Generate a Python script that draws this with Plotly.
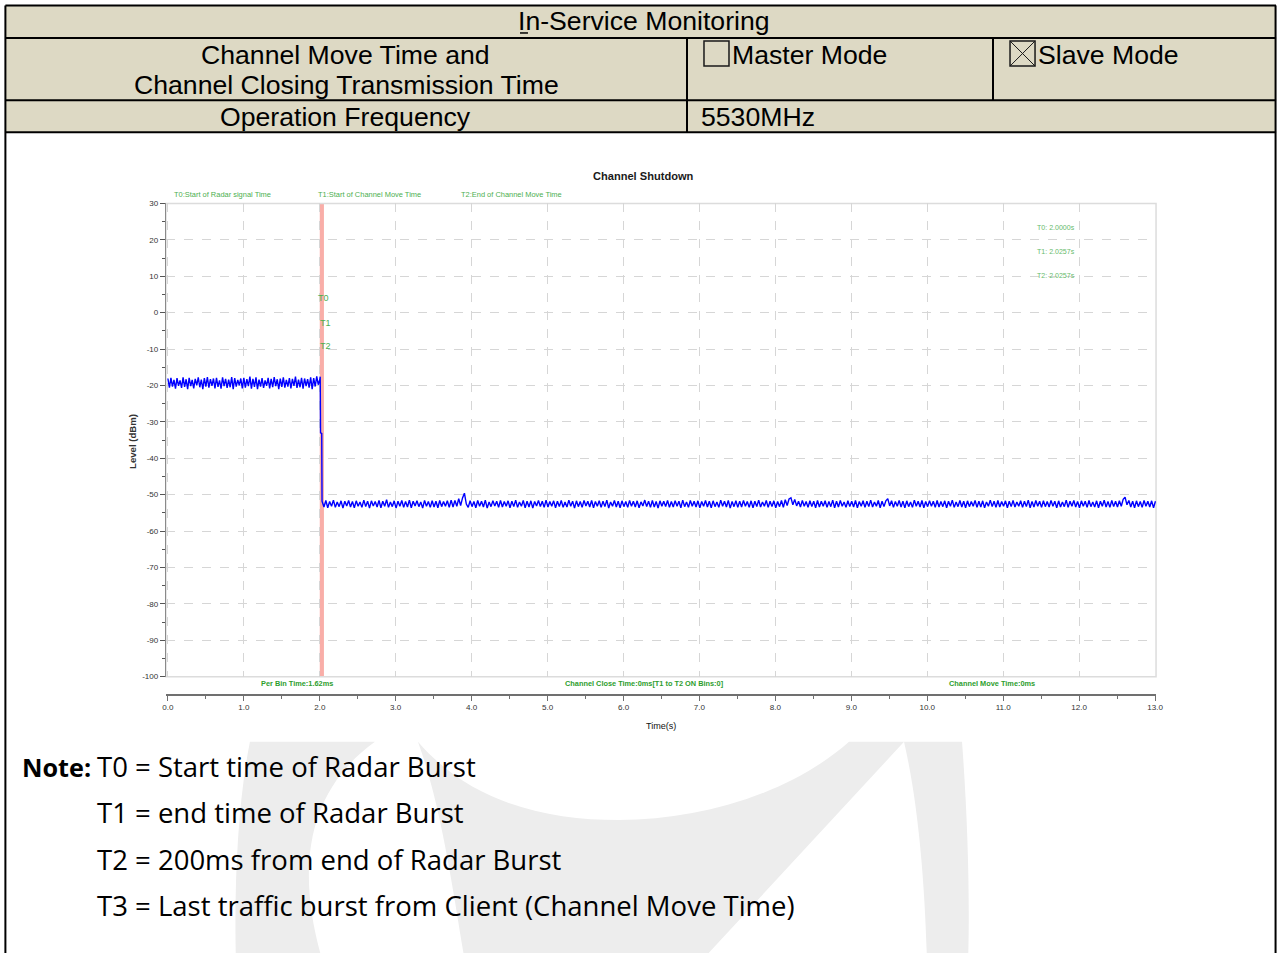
import plotly.graph_objects as go

# Page is 1283x953 with no body margin (set in post_script).  The photographed
# picture is slightly shrunk/offset relative to the page, so positions are given
# in picture pixels and mapped back to page pixels here.
W, H = 1283, 953
AX, BX = 4.1, 0.9913
AY, BY = 4.1, 0.988
FS = 1 / BX  # font-size compensation

# ---------------- data ----------------
chart_title = "Channel Shutdown"
x_title = "Time(s)"
y_title = "Level (dBm)"
x_tick_values = [0, 1, 2, 3, 4, 5, 6, 7, 8, 9, 10, 11, 12, 13]
y_tick_values = [30, 20, 10, 0, -10, -20, -30, -40, -50, -60, -70, -80, -90, -100]

# level before the radar burst (sampled every 0.02 s from 0.00 s)
seg1_step = 0.02
seg1_level = [
    -18.1, -20.6, -17.9, -20.3, -18.5, -20.9, -18.0, -20.1, -18.6, -20.7,
    -17.8, -20.4, -18.3, -21.0, -17.9, -20.2, -18.5, -20.8, -18.2, -20.0,
    -17.8, -20.5, -18.4, -21.0, -18.0, -20.3, -17.7, -20.6, -18.3, -20.1,
    -18.1, -20.8, -17.9, -20.4, -18.6, -20.9, -17.8, -20.2, -18.2, -20.7,
    -18.4, -20.5, -17.7, -21.0, -18.0, -20.3, -18.5, -20.0, -18.1, -20.8,
    -17.9, -20.6, -18.3, -20.2, -17.6, -20.9, -18.2, -20.4, -17.8, -21.0,
    -18.4, -20.3, -18.0, -20.7, -18.6, -20.1, -17.9, -20.8, -18.2, -20.5,
    -17.7, -20.2, -18.3, -21.0, -18.1, -20.4, -17.8, -20.6, -18.5, -20.3,
    -18.0, -20.8, -18.2, -20.1, -17.6, -20.7, -18.4, -20.5, -17.9, -20.9,
    -18.1, -20.2, -18.3, -20.6, -17.8, -21.0, -18.0, -20.3, -17.5, -19.8,
]

# drop at the radar burst
transition_time = [2.000, 2.006, 2.010, 2.026]
transition_level = [-18.4, -17.6, -33.0, -33.2]

# level after channel shutdown (sampled every 0.025 s from 2.03 s)
seg2_start = 2.03
seg2_step = 0.025
seg2_level = [
    -51.8, -53.4, -51.6, -53.6, -51.9, -53.2, -51.5, -53.5, -52.0, -53.3, -51.7, -53.7, -51.8, -53.1, -51.6, -53.4, -51.9, -53.6, -51.7, -53.2,
    -52.0, -53.5, -51.5, -53.3, -51.8, -53.7, -51.7, -53.1, -51.9, -53.4, -51.6, -53.6, -51.8, -53.2, -51.4, -53.5, -52.0, -53.3, -51.7, -53.7,
    -51.8, -53.2, -51.6, -53.5, -51.9, -53.4, -51.5, -53.6, -51.8, -53.1, -51.7, -53.3, -52.0, -53.7, -51.6, -53.2, -51.9, -53.5, -51.7, -53.4,
    -51.8, -53.6, -51.6, -53.3, -51.9, -53.2, -51.7, -53.5, -51.5, -53.4, -51.6, -53.2, -51.1, -53.0, -50.9, -49.6, -52.6, -53.5, -51.7, -53.3,
    -51.9, -53.6, -51.6, -53.2, -51.8, -53.4, -51.5, -53.7, -52.0, -53.3, -51.7, -53.1, -51.8, -53.5, -51.6, -53.4, -51.9, -53.2, -51.7, -53.6,
    -51.8, -53.3, -51.5, -53.5, -52.0, -53.2, -51.6, -53.6, -51.8, -53.4, -51.7, -53.7, -51.9, -53.1, -51.6, -53.3, -51.8, -53.5, -51.5, -53.4,
    -51.9, -53.2, -51.7, -53.6, -51.8, -53.3, -51.6, -53.5, -52.0, -53.4, -51.5, -53.2, -51.8, -53.7, -51.7, -53.3, -51.9, -53.5, -51.6, -53.1,
    -51.8, -53.4, -51.6, -53.6, -51.9, -53.2, -51.7, -53.5, -51.8, -53.3, -51.5, -53.7, -52.0, -53.2, -51.6, -53.4, -51.8, -53.6, -51.7, -53.3,
    -51.9, -53.5, -51.6, -53.2, -51.8, -53.4, -51.7, -53.6, -52.0, -53.1, -51.5, -53.3, -51.8, -53.5, -51.6, -53.4, -51.9, -53.7, -51.7, -53.2,
    -51.8, -53.3, -51.6, -53.5, -51.9, -53.4, -51.7, -53.2, -51.8, -53.6, -51.5, -53.3, -52.0, -53.5, -51.6, -53.2, -51.8, -53.4, -51.7, -53.6,
    -51.9, -53.2, -51.6, -53.4, -51.8, -53.6, -51.7, -53.3, -52.0, -53.5, -51.5, -53.2, -51.8, -53.4, -51.6, -53.7, -51.9, -53.3, -51.7, -53.5,
    -51.8, -53.4, -51.6, -53.2, -51.9, -53.5, -51.7, -53.6, -51.8, -53.3, -51.5, -53.4, -52.0, -53.2, -51.6, -53.5, -51.8, -53.3, -51.7, -53.6,
    -51.9, -53.3, -51.6, -53.5, -51.4, -53.0, -51.2, -50.9, -52.8, -51.3, -53.1, -51.8, -53.4, -51.6, -53.2, -51.9, -53.5, -51.7, -53.3, -51.8,
    -53.6, -51.6, -53.4, -51.8, -53.2, -51.7, -53.5, -51.9, -53.3, -51.5, -53.6, -51.8, -53.4, -51.6, -53.2, -52.0, -53.5, -51.7, -53.3, -51.8,
    -53.4, -51.6, -53.6, -51.9, -53.2, -51.7, -53.5, -51.8, -53.3, -51.5, -53.4, -52.0, -53.2, -51.6, -53.6, -51.8, -53.3, -51.7, -51.1, -53.1,
    -51.7, -53.5, -51.9, -53.2, -51.6, -53.4, -51.8, -53.6, -51.7, -53.3, -52.0, -53.5, -51.5, -53.2, -51.8, -53.4, -51.6, -53.6, -51.9, -53.3,
    -51.7, -53.2, -51.8, -53.5, -51.6, -53.4, -51.9, -53.3, -51.7, -53.6, -51.8, -53.2, -51.5, -53.5, -52.0, -53.3, -51.6, -53.4, -51.8, -53.6,
    -51.7, -53.3, -51.9, -53.2, -51.6, -53.5, -51.8, -53.4, -51.7, -53.6, -52.0, -53.2, -51.5, -53.3, -51.8, -53.5, -51.6, -53.4, -51.9, -53.2,
    -51.7, -53.6, -51.8, -53.3, -51.6, -53.4, -52.0, -53.2, -51.7, -53.5, -51.8, -53.3, -51.5, -53.6, -51.9, -53.4, -51.6, -53.2, -51.8, -53.5,
    -51.7, -53.3, -51.9, -53.4, -51.6, -53.2, -51.8, -53.6, -51.7, -53.4, -52.0, -53.3, -51.5, -53.5, -51.8, -53.2, -51.6, -53.4, -51.9, -53.6,
    -51.7, -53.2, -51.8, -53.5, -51.6, -53.3, -52.0, -53.4, -51.7, -53.6, -51.8, -53.2, -51.5, -53.4, -51.9, -53.5, -51.6, -53.3, -51.8, -53.4,
    -51.7, -53.2, -51.3, -50.7, -52.8, -51.6, -53.4, -51.8, -53.6, -51.7, -53.3, -51.9, -53.5, -51.6, -53.2, -51.8, -53.4, -51.7, -53.6, -51.8,
]

# marker times
marker_names = ["T0", "T1", "T2"]
marker_times = [2.0000, 2.0257, 2.0257]
marker_label_levels = [4.0, -2.8, -9.1]
shutdown_band = [2.000, 2.055]

top_legend = ["T0:Start of Radar signal Time", "T1:Start of Channel Move Time", "T2:End of Channel Move Time"]
bottom_info = ["Per Bin Time:1.62ms", "Channel Close Time:0ms[T1 to T2 ON Bins:0]", "Channel Move Time:0ms"]

header_title = "In-Service Monitoring"
row2_left = ["Channel Move Time and", "Channel Closing Transmission Time"]
mode_labels = ["Master Mode", "Slave Mode"]
mode_checked = [False, True]
row3_left = "Operation Frequency"
row3_right = "5530MHz"

note_head = "Note:"
note_lines = [
    "T0 = Start time of Radar Burst",
    "T1 = end time of Radar Burst",
    "T2 = 200ms from end of Radar Burst",
    "T3 = Last traffic burst from Client (Channel Move Time)",
]

# ---------------- helpers ----------------
def PX(x):
    return ((x - AX) / BX) / W


def PY(y):
    return 1 - ((y - AY) / BY) / H


CHART_FONT = "Liberation Sans, Arial, sans-serif"
ARIAL = "Liberation Sans, Arial, sans-serif"
NOTE_FONT = "Open Sans, Noto Sans, sans-serif"
TAN = "#DDD9C4"

time = [i * seg1_step for i in range(len(seg1_level))] + transition_time + \
       [seg2_start + i * seg2_step for i in range(len(seg2_level))]
level = seg1_level + transition_level + seg2_level

fig = go.Figure()
fig.add_trace(go.Scatter(x=time, y=level, mode="lines",
                         line=dict(color="#0000FF", width=1.4), hoverinfo="skip",
                         showlegend=False))

shapes = []
annotations = []

# ---- table ----
L, R, T = 5.5, 1276, 5.5
shapes.append(dict(type="rect", xref="paper", yref="paper", x0=PX(L), x1=PX(R), y0=PY(132), y1=PY(T),
                   fillcolor=TAN, line=dict(width=0), layer="below"))


def hline(y, x0, x1, w=2, color="black"):
    shapes.append(dict(type="line", xref="paper", yref="paper", x0=PX(x0), x1=PX(x1), y0=PY(y), y1=PY(y),
                       line=dict(color=color, width=w)))


def vline(x, y0, y1, w=2, color="black"):
    shapes.append(dict(type="line", xref="paper", yref="paper", x0=PX(x), x1=PX(x), y0=PY(y0), y1=PY(y1),
                       line=dict(color=color, width=w)))


for yy in (T, 38, 100, 132):
    hline(yy, L, R)
vline(L, T, 960)
vline(R - 0.5, T, 960)
vline(687, 38, 132)
vline(993, 38, 100)
# accelerator underline under the "I"
hline(33, 520, 528, w=1.5)

# checkboxes
for bx, checked in zip((704, 1010), mode_checked):
    shapes.append(dict(type="rect", xref="paper", yref="paper", x0=PX(bx), x1=PX(bx + 25), y0=PY(66), y1=PY(41),
                       line=dict(color="#1a1a1a", width=1.5)))
    if checked:
        shapes.append(dict(type="line", xref="paper", yref="paper", x0=PX(bx), x1=PX(bx + 25), y0=PY(41), y1=PY(66),
                           line=dict(color="#1a1a1a", width=1)))
        shapes.append(dict(type="line", xref="paper", yref="paper", x0=PX(bx), x1=PX(bx + 25), y0=PY(66), y1=PY(41),
                           line=dict(color="#1a1a1a", width=1)))


def text(t, x, y, size, font=ARIAL, color="#000", xanchor="center", yanchor="middle", **kw):
    annotations.append(dict(text=t, x=PX(x), y=PY(y), xref="paper", yref="paper", showarrow=False,
                            xanchor=xanchor, yanchor=yanchor,
                            font=dict(family=font, size=size * FS, color=color), **kw))


TS = 26.4
text(header_title, 644.5, 21.5, TS)
text(row2_left[0], 346, 54.5, TS)
text(row2_left[1], 346.5, 84.5, TS)
text(mode_labels[0], 730, 54.5, TS, xanchor="left")
text(mode_labels[1], 1036, 54.5, TS, xanchor="left")
text(row3_left, 346, 116.5, TS)
text(row3_right, 699, 116.5, TS, xanchor="left")

# ---- watermark (light grey logo fragments) ----
def path(pts):
    s = ""
    for cmd, *xy in pts:
        s += cmd
        vals = []
        for i in range(0, len(xy), 2):
            vals.append(f"{PX(xy[i]):.5f},{PY(xy[i + 1]):.5f}")
        s += " ".join(vals) + " "
    return s + "Z"


WM = "#EDEDED"
wm_paths = [
    [("M", 418, 740), ("C", 470, 800, 545, 818, 619, 818), ("C", 700, 818, 790, 792, 849, 740),
     ("L", 904, 740), ("L", 700, 960), ("L", 465, 960), ("C", 452, 880, 440, 800, 418, 740)],
    [("M", 250, 740), ("L", 375, 740), ("C", 305, 790, 296, 870, 323, 960), ("L", 236, 960),
     ("C", 234, 880, 238, 800, 250, 740)],
    [("M", 904, 740), ("L", 962, 740), ("C", 968, 820, 970, 900, 968, 960), ("L", 927, 960),
     ("C", 925, 880, 918, 800, 904, 740)],
]
for p in wm_paths:
    shapes.append(dict(type="path", xref="paper", yref="paper", path=path(p), fillcolor=WM,
                       line=dict(width=0), layer="below"))

# ---- chart decorations ----
shapes.append(dict(type="rect", xref="x", yref="y domain", x0=shutdown_band[0], x1=shutdown_band[1], y0=0, y1=1,
                   fillcolor="rgba(245,120,110,0.6)", line=dict(width=0), layer="below"))
shapes.append(dict(type="rect", xref="x domain", yref="y domain", x0=0, x1=1, y0=0, y1=1,
                   line=dict(color="#DCDCDC", width=1.5), layer="below"))

text(f"<b>{chart_title}</b>", 644, 176, 11, font=CHART_FONT, color="#1a1a1a")
for lab, x0 in zip(top_legend, (172, 316, 459)):
    text(lab, x0, 194, 7.4, font=CHART_FONT, color="#4CAF50", xanchor="left")
for lab, xc in zip(bottom_info, (297, 644.5, 991.5)):
    text(f"<b>{lab}</b>", xc, 682, 7.3, font=CHART_FONT, color="#2E9E2E")
for i, (nm, tv) in enumerate(zip(marker_names, marker_times)):
    text(f"{nm}: {tv:.4f}s", 1077, 227 + 24 * i, 7, font=CHART_FONT, color="#66BB6A", xanchor="right")
for nm, tv, lv in zip(marker_names, marker_times, marker_label_levels):
    annotations.append(dict(text=nm, x=tv, y=lv, xref="x", yref="y", showarrow=False, xanchor="left",
                            xshift=-4, font=dict(family=CHART_FONT, size=9 * FS, color="#4CAF50")))

text(x_title, 661, 724, 9, font=CHART_FONT, color="#111")
text(f"<b>{y_title}</b>", 132, 440, 9.5, font=ARIAL, color="#333", textangle=-90)

# ---- note ----
NS = 27.3
text(f"<b>{note_head}</b>", 20, 765, 25, font=NOTE_FONT, xanchor="left")
for i, line in enumerate(note_lines):
    text(line, 95, 765 + 46 * i, NS, font=NOTE_FONT, xanchor="left")

# ---------------- layout ----------------
x_range = [-0.026, 13.013]
fig.update_layout(
    width=W, height=H, autosize=False,
    margin=dict(l=0, r=0, t=0, b=0),
    paper_bgcolor="white", plot_bgcolor="white",
    showlegend=False,
    shapes=shapes, annotations=annotations,
    xaxis=dict(domain=[PX(166), PX(1156)], range=x_range, anchor="free", position=PY(693),
               showline=True, linecolor="#707070", linewidth=2,
               ticks="outside", ticklen=5, tickcolor="#707070", tickwidth=1,
               tickvals=x_tick_values, ticktext=[f"{v:.1f}" for v in x_tick_values],
               tickfont=dict(family=CHART_FONT, size=8 * FS, color="#333"),
               minor=dict(dtick=0.5, tick0=0, ticks="outside", ticklen=3, tickcolor="#707070", showgrid=False),
               showgrid=True, gridcolor="#D6D6D6", griddash="dash", gridwidth=1, zeroline=False),
    yaxis=dict(domain=[PY(675), PY(203)], range=[-100, 30],
               showline=True, linecolor="#8A8A8A", linewidth=1,
               ticks="outside", ticklen=5, tickcolor="#555", tickwidth=1,
               tickvals=y_tick_values, ticktext=[str(v) for v in y_tick_values],
               tickfont=dict(family=CHART_FONT, size=8 * FS, color="#333"),
               minor=dict(dtick=5, tick0=0, ticks="outside", ticklen=3, tickcolor="#555", showgrid=False),
               showgrid=True, gridcolor="#D6D6D6", griddash="dash", gridwidth=1, zeroline=False),
)

fig.write_html("out.html", config={"displayModeBar": False},
               post_script="document.body.style.margin='0';document.body.style.overflow='hidden';")
